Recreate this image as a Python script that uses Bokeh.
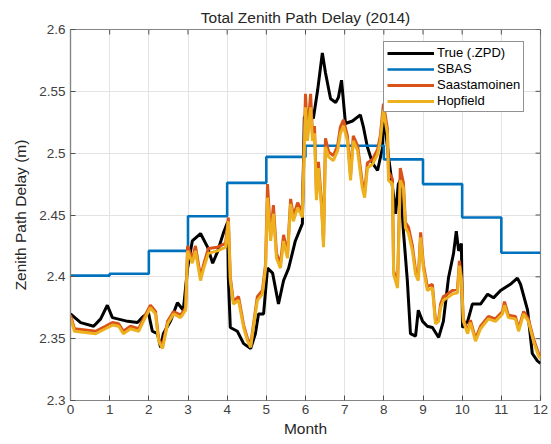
from bokeh.plotting import figure
from bokeh.models import (FixedTicker, NumeralTickFormatter, Range1d, Legend, LegendItem)
from bokeh.embed import file_html
from bokeh.resources import INLINE

# ---------------- data ----------------
title_text = "Total Zenith Path Delay (2014)"
x_label = "Month"
y_label = "Zenith Path Delay (m)"
series_names = ["True (.ZPD)", "SBAS", "Saastamoinen", "Hopfield"]

month_ticks = [0, 1, 2, 3, 4, 5, 6, 7, 8, 9, 10, 11, 12]
delay_ticks = [2.3, 2.35, 2.4, 2.45, 2.5, 2.55, 2.6]

true_months = [0.00, 0.26, 0.59, 0.77, 0.94, 1.07, 1.46, 1.71, 1.86, 1.99, 2.09, 2.22, 2.30, 2.37,
               2.55, 2.73, 2.88, 2.99, 3.11, 3.32, 3.50, 3.63, 3.75, 3.91, 4.01, 4.03, 4.08, 4.26,
               4.42, 4.60, 4.72, 4.80, 4.93, 5.03, 5.16, 5.31, 5.44, 5.57, 5.74, 5.92, 5.97, 6.08,
               6.20, 6.31, 6.43, 6.51, 6.64, 6.77, 6.84, 6.92, 7.02, 7.20, 7.40, 7.48, 7.58, 7.71,
               7.84, 7.97, 7.99, 8.12, 8.22, 8.30, 8.37, 8.42, 8.50, 8.60, 8.68, 8.81, 8.88, 8.99,
               9.11, 9.24, 9.40, 9.52, 9.65, 9.78, 9.85, 9.91, 9.98, 10.01, 10.14, 10.26, 10.47,
               10.65, 10.80, 10.98, 11.23, 11.41, 11.49, 11.67, 11.79, 11.92, 12.00]
true_zpd = [2.370, 2.363, 2.360, 2.366, 2.377, 2.367, 2.364, 2.363, 2.368, 2.371, 2.356, 2.354, 2.343, 2.354,
            2.364, 2.379, 2.373, 2.407, 2.429, 2.435, 2.424, 2.411, 2.420, 2.436, 2.444, 2.399, 2.359, 2.356,
            2.346, 2.342, 2.354, 2.370, 2.370, 2.407, 2.403, 2.378, 2.397, 2.407, 2.429, 2.443, 2.529, 2.533,
            2.528, 2.551, 2.581, 2.565, 2.544, 2.541, 2.545, 2.559, 2.524, 2.526, 2.531, 2.521, 2.505, 2.492,
            2.486, 2.505, 2.535, 2.497, 2.473, 2.451, 2.475, 2.478, 2.437, 2.397, 2.354, 2.352, 2.373, 2.364,
            2.360, 2.359, 2.351, 2.364, 2.399, 2.419, 2.437, 2.421, 2.427, 2.359, 2.364, 2.378, 2.378,
            2.386, 2.383, 2.389, 2.394, 2.399, 2.394, 2.373, 2.338, 2.332, 2.330]

sbas_months = [0, 1, 2, 3, 4, 5, 6, 7, 8, 9, 10, 11, 12]
sbas_zpd = [2.401, 2.4025, 2.421, 2.449, 2.476, 2.497, 2.506, 2.506, 2.495, 2.475, 2.448, 2.4195]

model_months = [0.00, 0.10, 0.38, 0.64, 0.89, 1.07, 1.23, 1.35, 1.53, 1.74, 1.86, 2.04, 2.17, 2.25,
                2.35, 2.48, 2.63, 2.81, 2.94, 2.99, 3.11, 3.19, 3.32, 3.40, 3.52, 3.75, 3.96, 4.03,
                4.08, 4.16, 4.29, 4.42, 4.52, 4.60, 4.67, 4.77, 4.90, 4.98, 5.03, 5.11, 5.18, 5.26,
                5.36, 5.44, 5.54, 5.62, 5.69, 5.80, 5.92, 6.00, 6.05, 6.13, 6.18, 6.23, 6.28, 6.33,
                6.41, 6.46, 6.51, 6.59, 6.71, 6.82, 6.89, 6.97, 7.07, 7.15, 7.22, 7.33, 7.45, 7.51,
                7.58, 7.71, 7.84, 7.91, 7.99, 8.09, 8.12, 8.22, 8.25, 8.35, 8.42, 8.50, 8.55, 8.63,
                8.73, 8.81, 8.88, 8.94, 9.01, 9.11, 9.24, 9.32, 9.40, 9.45, 9.52, 9.62, 9.75, 9.88,
                9.93, 9.98, 10.03, 10.14, 10.21, 10.34, 10.47, 10.67, 10.85, 11.03, 11.08, 11.18,
                11.36, 11.44, 11.57, 11.69, 11.82, 11.95, 12.00]
saastamoinen = [2.369, 2.358, 2.357, 2.356, 2.360, 2.363, 2.362, 2.356, 2.360, 2.358, 2.366, 2.377, 2.372, 2.350,
                2.344, 2.364, 2.372, 2.369, 2.375, 2.425, 2.414, 2.425, 2.400, 2.410, 2.423, 2.424, 2.427, 2.448,
                2.400, 2.380, 2.384, 2.361, 2.350, 2.345, 2.361, 2.384, 2.389, 2.410, 2.475, 2.433, 2.458, 2.419,
                2.410, 2.434, 2.418, 2.463, 2.449, 2.460, 2.452, 2.548, 2.514, 2.548, 2.514, 2.522, 2.466, 2.493,
                2.460, 2.428, 2.512, 2.501, 2.498, 2.506, 2.521, 2.527, 2.514, 2.482, 2.514, 2.506, 2.476, 2.468,
                2.492, 2.495, 2.503, 2.514, 2.540, 2.520, 2.485, 2.479, 2.405, 2.394, 2.488, 2.476, 2.444, 2.440,
                2.425, 2.405, 2.400, 2.436, 2.410, 2.392, 2.394, 2.364, 2.366, 2.378, 2.384, 2.386, 2.389, 2.390,
                2.413, 2.400, 2.366, 2.356, 2.365, 2.350, 2.360, 2.368, 2.366, 2.372, 2.380, 2.369,
                2.368, 2.358, 2.372, 2.366, 2.350, 2.338, 2.336]
hopfield = [2.367, 2.356, 2.355, 2.354, 2.358, 2.361, 2.360, 2.354, 2.358, 2.356, 2.364, 2.375, 2.370, 2.348,
            2.342, 2.362, 2.370, 2.367, 2.373, 2.421, 2.411, 2.421, 2.397, 2.407, 2.419, 2.421, 2.424, 2.445,
            2.397, 2.378, 2.381, 2.359, 2.348, 2.343, 2.359, 2.381, 2.386, 2.407, 2.464, 2.429, 2.451, 2.415,
            2.407, 2.429, 2.415, 2.459, 2.445, 2.456, 2.448, 2.537, 2.510, 2.537, 2.510, 2.516, 2.462, 2.488,
            2.456, 2.424, 2.505, 2.497, 2.494, 2.502, 2.516, 2.522, 2.510, 2.478, 2.510, 2.502, 2.472, 2.464,
            2.488, 2.491, 2.499, 2.510, 2.535, 2.516, 2.478, 2.475, 2.402, 2.391, 2.478, 2.472, 2.440, 2.435,
            2.421, 2.402, 2.397, 2.432, 2.407, 2.389, 2.391, 2.362, 2.364, 2.375, 2.381, 2.383, 2.386, 2.387,
            2.409, 2.397, 2.364, 2.354, 2.363, 2.348, 2.358, 2.366, 2.364, 2.370, 2.377, 2.367,
            2.366, 2.356, 2.370, 2.364, 2.348, 2.336, 2.334]

# ---------------- styles ----------------
FONT = "Liberation Sans"
TXT = "#262626"
TICKTXT = "#404040"
AX = "#858585"
TICKC = "#505050"
colors = ["#000000", "#0072BD", "#D95319", "#EDB120"]

x0, x1 = month_ticks[0], month_ticks[-1]
y0, y1 = delay_ticks[0], delay_ticks[-1]

p = figure(width=551, height=444, output_backend="svg", toolbar_location=None,
           x_range=Range1d(x0, x1), y_range=Range1d(y0, y1),
           min_border_left=70, min_border_right=11, min_border_top=29, min_border_bottom=44)
p.background_fill_color = "white"
p.border_fill_color = "white"
p.outline_line_color = AX
p.outline_line_width = 1.2

p.title.text = title_text
p.title.align = "center"
p.title.text_font = FONT
p.title.text_font_size = "15.5px"
p.title.text_font_style = "normal"
p.title.text_color = TXT
p.title.offset = 0
p.title.standoff = 8

for ax in (p.xaxis[0], p.yaxis[0]):
    ax.major_label_text_font = FONT
    ax.major_label_text_font_size = "13.5px"
    ax.major_label_text_color = TICKTXT
    ax.axis_label_text_font = FONT
    ax.axis_label_text_font_size = "15.5px"
    ax.axis_label_text_font_style = "normal"
    ax.axis_label_text_color = TXT
    ax.axis_line_color = AX
    ax.axis_line_width = 1.2
    ax.major_tick_line_color = TICKC
    ax.major_tick_in = 5
    ax.major_tick_out = 0
    ax.minor_tick_line_color = None

p.xaxis[0].ticker = FixedTicker(ticks=month_ticks)
p.yaxis[0].ticker = FixedTicker(ticks=delay_ticks)
p.yaxis[0].formatter = NumeralTickFormatter(format="0.0[0]")
p.xaxis[0].axis_label = x_label
p.yaxis[0].axis_label = y_label
p.xaxis[0].major_label_standoff = 4
p.yaxis[0].major_label_standoff = 5
p.xaxis[0].axis_label_standoff = 3
p.yaxis[0].axis_label_standoff = 7

p.xgrid.ticker = FixedTicker(ticks=month_ticks)
p.ygrid.ticker = FixedTicker(ticks=delay_ticks)
p.grid.grid_line_color = "#e3e3e3"
p.grid.grid_line_width = 1

# inward box ticks on the top and right edges (5 px long)
tick_dy = 5 * (y1 - y0) / 371.0
tick_dx = 5 * (x1 - x0) / 470.0
p.segment(x0=month_ticks, y0=[y1] * len(month_ticks), x1=month_ticks,
          y1=[y1 - tick_dy] * len(month_ticks), line_color=TICKC, line_width=1)
p.segment(x0=[x1] * len(delay_ticks), y0=delay_ticks, x1=[x1 - tick_dx] * len(delay_ticks),
          y1=delay_ticks, line_color=TICKC, line_width=1)

r_true = p.line(true_months, true_zpd, line_color=colors[0], line_width=3)
sb_y = sbas_zpd + [sbas_zpd[-1]]
r_sbas = p.step(sbas_months, sb_y, mode="after", line_color=colors[1], line_width=2.6)
r_saas = p.line(model_months, saastamoinen, line_color=colors[2], line_width=3)
r_hop = p.line(model_months, hopfield, line_color=colors[3], line_width=3)

legend = Legend(items=[LegendItem(label=series_names[0], renderers=[r_true]),
                       LegendItem(label=series_names[1], renderers=[r_sbas]),
                       LegendItem(label=series_names[2], renderers=[r_saas]),
                       LegendItem(label=series_names[3], renderers=[r_hop])],
                location=(313, 288))
legend.label_text_font = FONT
legend.label_text_font_size = "13px"
legend.label_text_color = "#000000"
legend.glyph_width = 47
legend.glyph_height = 14
legend.label_height = 15
legend.spacing = 1
legend.padding = 3
legend.margin = 0
legend.label_standoff = 3
legend.border_line_color = "#262626"
legend.border_line_width = 1
legend.background_fill_alpha = 1
p.add_layout(legend, "center")

open("out.html", "w").write(file_html(p, INLINE))
